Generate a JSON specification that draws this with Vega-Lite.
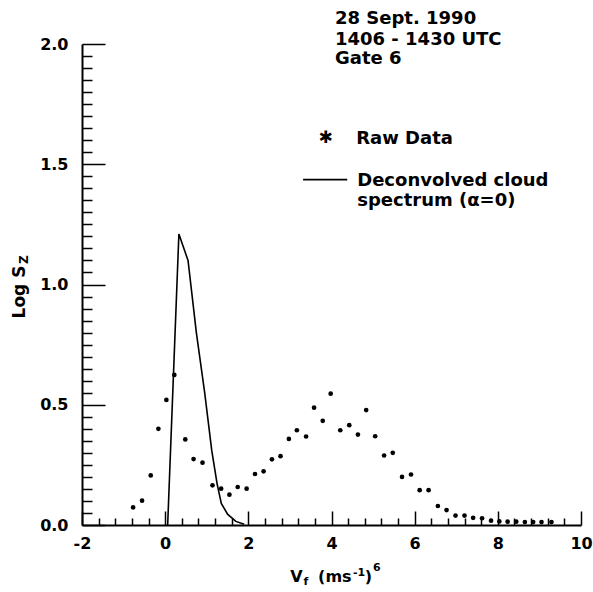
{
  "$schema": "https://vega.github.io/schema/vega-lite/v6.json",
  "width": 499,
  "height": 481,
  "autosize": {"type": "none"},
  "padding": {"left": 82, "top": 44, "right": 12, "bottom": 67},
  "background": "white",
  "resolve": {"axis": {"x": "independent", "y": "independent"}},
  "config": {
    "view": {"stroke": null},
    "axis": {
      "grid": false,
      "domainColor": "black",
      "domainWidth": 2,
      "tickColor": "black",
      "tickWidth": 1.5,
      "labelFont": "DejaVu Sans",
      "labelFontWeight": "bold",
      "labelFontSize": 16,
      "labelColor": "black",
      "labelOverlap": false,
      "labelFlush": false,
      "title": null
    },
    "text": {"font": "DejaVu Sans", "color": "black", "fontWeight": "bold"}
  },
  "datasets": {
    "raw": [
      {"vf": -0.771, "logsz": 0.073},
      {"vf": -0.556, "logsz": 0.101},
      {"vf": -0.347, "logsz": 0.206},
      {"vf": -0.163, "logsz": 0.40},
      {"vf": 0.029, "logsz": 0.52},
      {"vf": 0.22, "logsz": 0.624},
      {"vf": 0.484, "logsz": 0.356},
      {"vf": 0.683, "logsz": 0.274},
      {"vf": 0.898, "logsz": 0.259},
      {"vf": 1.138, "logsz": 0.165},
      {"vf": 1.346, "logsz": 0.151},
      {"vf": 1.545, "logsz": 0.126},
      {"vf": 1.744, "logsz": 0.158},
      {"vf": 1.959, "logsz": 0.151},
      {"vf": 2.16, "logsz": 0.212},
      {"vf": 2.367, "logsz": 0.223},
      {"vf": 2.568, "logsz": 0.273},
      {"vf": 2.774, "logsz": 0.286},
      {"vf": 2.975, "logsz": 0.358},
      {"vf": 3.167, "logsz": 0.394},
      {"vf": 3.389, "logsz": 0.368},
      {"vf": 3.581, "logsz": 0.488},
      {"vf": 3.789, "logsz": 0.433},
      {"vf": 3.98, "logsz": 0.546},
      {"vf": 4.211, "logsz": 0.394},
      {"vf": 4.427, "logsz": 0.415},
      {"vf": 4.635, "logsz": 0.376},
      {"vf": 4.834, "logsz": 0.478},
      {"vf": 5.05, "logsz": 0.369},
      {"vf": 5.265, "logsz": 0.289},
      {"vf": 5.473, "logsz": 0.30},
      {"vf": 5.696, "logsz": 0.20},
      {"vf": 5.912, "logsz": 0.21},
      {"vf": 6.12, "logsz": 0.145},
      {"vf": 6.335, "logsz": 0.145},
      {"vf": 6.558, "logsz": 0.079},
      {"vf": 6.767, "logsz": 0.062},
      {"vf": 6.982, "logsz": 0.039},
      {"vf": 7.198, "logsz": 0.039},
      {"vf": 7.406, "logsz": 0.030},
      {"vf": 7.621, "logsz": 0.028},
      {"vf": 7.837, "logsz": 0.018},
      {"vf": 8.036, "logsz": 0.015},
      {"vf": 8.235, "logsz": 0.014},
      {"vf": 8.443, "logsz": 0.014},
      {"vf": 8.65, "logsz": 0.012},
      {"vf": 8.85, "logsz": 0.012},
      {"vf": 9.05, "logsz": 0.012},
      {"vf": 9.29, "logsz": 0.012}
    ],
    "deconv": [
      {"vf": 0.06, "logsz": 0.0},
      {"vf": 0.33, "logsz": 1.21},
      {"vf": 0.55, "logsz": 1.10},
      {"vf": 0.75, "logsz": 0.80},
      {"vf": 0.95, "logsz": 0.55},
      {"vf": 1.12, "logsz": 0.31},
      {"vf": 1.25, "logsz": 0.17},
      {"vf": 1.35, "logsz": 0.09},
      {"vf": 1.5, "logsz": 0.045},
      {"vf": 1.7, "logsz": 0.015},
      {"vf": 1.9, "logsz": 0.003}
    ],
    "one": [{}]
  },
  "layer": [
    {
      "data": {"name": "raw"},
      "mark": {"type": "point", "shape": "circle", "filled": true, "color": "black", "size": 22, "opacity": 1},
      "encoding": {
        "x": {
          "field": "vf", "type": "quantitative",
          "scale": {"domain": [-2, 10], "nice": false, "zero": false},
          "axis": {
            "values": [-2, -1.6, -1.2, -0.8, -0.4, 0, 0.4, 0.8, 1.2, 1.6, 2, 2.4, 2.8, 3.2, 3.6, 4, 4.4, 4.8, 5.2, 5.6, 6, 6.4, 6.8, 7.2, 7.6, 8, 8.4, 8.8, 9.2, 9.6, 10],
            "tickSize": {"condition": {"test": "abs(datum.value/2 - round(datum.value/2)) < 0.001", "value": -14}, "value": -7},
            "labelExpr": "abs(datum.value/2 - round(datum.value/2)) < 0.001 ? ('' + round(datum.value)) : ''",
            "labelPadding": 24
          }
        },
        "y": {
          "field": "logsz", "type": "quantitative",
          "scale": {"domain": [0, 2], "nice": false, "zero": false},
          "axis": {
            "values": [0, 0.05, 0.1, 0.15, 0.2, 0.25, 0.3, 0.35, 0.4, 0.45, 0.5, 0.55, 0.6, 0.65, 0.7, 0.75, 0.8, 0.85, 0.9, 0.95, 1, 1.05, 1.1, 1.15, 1.2, 1.25, 1.3, 1.35, 1.4, 1.45, 1.5, 1.55, 1.6, 1.65, 1.7, 1.75, 1.8, 1.85, 1.9, 1.95, 2],
            "tickSize": {"condition": {"test": "abs(datum.value*2 - round(datum.value*2)) < 0.001", "value": -23}, "value": -10},
            "labelExpr": "abs(datum.value*2 - round(datum.value*2)) < 0.001 ? format(datum.value, '.1f') : ''",
            "labelPadding": 37
          }
        }
      }
    },
    {
      "data": {"name": "deconv"},
      "mark": {"type": "line", "color": "black", "strokeWidth": 1.6},
      "encoding": {
        "x": {"field": "vf", "type": "quantitative", "axis": null},
        "y": {"field": "logsz", "type": "quantitative", "axis": null}
      }
    },
    {
      "data": {"name": "one"},
      "mark": {"type": "rule", "color": "black", "strokeWidth": 1.6},
      "encoding": {
        "x": {"datum": 3.317, "type": "quantitative", "axis": null},
        "x2": {"datum": 4.378},
        "y": {"datum": 1.436, "type": "quantitative", "axis": null}
      }
    },
    {
      "data": {"name": "one"},
      "mark": {"type": "text", "fontSize": 18, "align": "left", "baseline": "alphabetic"},
      "encoding": {"x": {"datum": 4.084, "type": "quantitative", "axis": null}, "y": {"datum": 2.082, "type": "quantitative", "axis": null}, "text": {"value": "28 Sept. 1990"}}
    },
    {
      "data": {"name": "one"},
      "mark": {"type": "text", "fontSize": 18, "align": "left", "baseline": "alphabetic"},
      "encoding": {"x": {"datum": 4.084, "type": "quantitative", "axis": null}, "y": {"datum": 1.995, "type": "quantitative", "axis": null}, "text": {"value": "1406 - 1430 UTC"}}
    },
    {
      "data": {"name": "one"},
      "mark": {"type": "text", "fontSize": 18, "align": "left", "baseline": "alphabetic"},
      "encoding": {"x": {"datum": 4.084, "type": "quantitative", "axis": null}, "y": {"datum": 1.916, "type": "quantitative", "axis": null}, "text": {"value": "Gate 6"}}
    },
    {
      "data": {"name": "one"},
      "mark": {"type": "text", "fontSize": 17, "align": "center", "baseline": "middle"},
      "encoding": {"x": {"datum": 3.861, "type": "quantitative", "axis": null}, "y": {"datum": 1.611, "type": "quantitative", "axis": null}, "text": {"value": "✱"}}
    },
    {
      "data": {"name": "one"},
      "mark": {"type": "text", "fontSize": 18, "align": "left", "baseline": "alphabetic"},
      "encoding": {"x": {"datum": 4.594, "type": "quantitative", "axis": null}, "y": {"datum": 1.584, "type": "quantitative", "axis": null}, "text": {"value": "Raw Data"}}
    },
    {
      "data": {"name": "one"},
      "mark": {"type": "text", "fontSize": 18, "align": "left", "baseline": "alphabetic"},
      "encoding": {"x": {"datum": 4.618, "type": "quantitative", "axis": null}, "y": {"datum": 1.411, "type": "quantitative", "axis": null}, "text": {"value": "Deconvolved cloud"}}
    },
    {
      "data": {"name": "one"},
      "mark": {"type": "text", "fontSize": 18, "align": "left", "baseline": "alphabetic"},
      "encoding": {"x": {"datum": 4.618, "type": "quantitative", "axis": null}, "y": {"datum": 1.328, "type": "quantitative", "axis": null}, "text": {"value": "spectrum (α=0)"}}
    },
    {
      "data": {"name": "one"},
      "mark": {"type": "text", "fontSize": 17, "align": "left", "baseline": "alphabetic", "angle": 270},
      "encoding": {"x": {"datum": -3.365, "type": "quantitative", "axis": null}, "y": {"datum": 0.859, "type": "quantitative", "axis": null}, "text": {"value": "Log S"}}
    },
    {
      "data": {"name": "one"},
      "mark": {"type": "text", "fontSize": 12, "align": "left", "baseline": "alphabetic", "angle": 270},
      "encoding": {"x": {"datum": -3.29, "type": "quantitative", "axis": null}, "y": {"datum": 1.085, "type": "quantitative", "axis": null}, "text": {"value": "Z"}}
    },
    {
      "data": {"name": "one"},
      "mark": {"type": "text", "fontSize": 16, "align": "left", "baseline": "alphabetic"},
      "encoding": {"x": {"datum": 3.006, "type": "quantitative", "axis": null}, "y": {"datum": -0.238, "type": "quantitative", "axis": null}, "text": {"value": "V"}}
    },
    {
      "data": {"name": "one"},
      "mark": {"type": "text", "fontSize": 11, "align": "left", "baseline": "alphabetic"},
      "encoding": {"x": {"datum": 3.329, "type": "quantitative", "axis": null}, "y": {"datum": -0.2495, "type": "quantitative", "axis": null}, "text": {"value": "f"}}
    },
    {
      "data": {"name": "one"},
      "mark": {"type": "text", "fontSize": 16, "align": "left", "baseline": "alphabetic"},
      "encoding": {"x": {"datum": 3.677, "type": "quantitative", "axis": null}, "y": {"datum": -0.238, "type": "quantitative", "axis": null}, "text": {"value": "(ms"}}
    },
    {
      "data": {"name": "one"},
      "mark": {"type": "text", "fontSize": 11, "align": "left", "baseline": "alphabetic"},
      "encoding": {"x": {"datum": 4.515, "type": "quantitative", "axis": null}, "y": {"datum": -0.211, "type": "quantitative", "axis": null}, "text": {"value": "-1"}}
    },
    {
      "data": {"name": "one"},
      "mark": {"type": "text", "fontSize": 16, "align": "left", "baseline": "alphabetic"},
      "encoding": {"x": {"datum": 4.80, "type": "quantitative", "axis": null}, "y": {"datum": -0.238, "type": "quantitative", "axis": null}, "text": {"value": ")"}}
    },
    {
      "data": {"name": "one"},
      "mark": {"type": "text", "fontSize": 11, "align": "left", "baseline": "alphabetic"},
      "encoding": {"x": {"datum": 5.0, "type": "quantitative", "axis": null}, "y": {"datum": -0.190, "type": "quantitative", "axis": null}, "text": {"value": "6"}}
    }
  ]
}
